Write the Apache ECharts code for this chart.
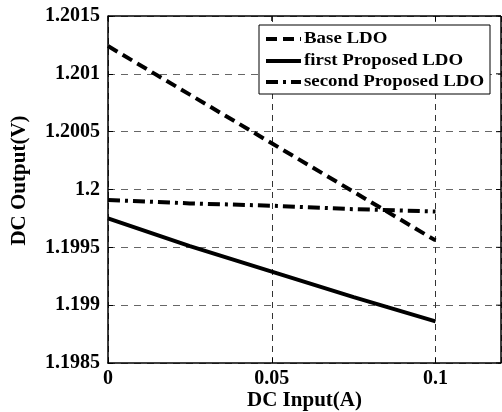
<!DOCTYPE html>
<html>
<head>
<meta charset="utf-8">
<script src="https://cdn.jsdelivr.net/npm/echarts@6/dist/echarts.min.js"></script>
<style>
  html, body { margin: 0; padding: 0; background: #fff; }
  #chart { width: 502px; height: 412px; }
</style>
</head>
<body>
<div id="chart"></div>
<script>
// Load current (A) vs. regulated DC output (V)
const inputCurrent = [0, 0.025, 0.05, 0.075, 0.1];
const baseLDO = [1.20124, 1.20082, 1.2004, 1.19998, 1.19956];
const firstProposedLDO = [1.19975, 1.19951, 1.19929, 1.19907, 1.19886];
const secondProposedLDO = [1.19991, 1.19988, 1.19986, 1.19983, 1.19981];
const seriesNames = ['Base LDO', 'first Proposed LDO', 'second Proposed LDO'];
const xTicks = [0, 0.05, 0.1];
const yTicks = ['1.1985', '1.199', '1.1995', '1.2', '1.2005', '1.201', '1.2015'];

const font = 'Liberation Serif';
const dashStyles = [[11, 6], 'solid', [12, 5, 3, 5]];
const pairs = ys => inputCurrent.map((x, i) => [x, ys[i]]);

const chart = echarts.init(document.getElementById('chart'), null, { renderer: 'canvas' });

function lineSeries(name, data, type) {
  return {
    name: name,
    type: 'line',
    data: pairs(data),
    symbol: 'none',
    smooth: false,
    lineStyle: { color: '#000', width: 4, type: type },
    itemStyle: { color: '#000' },
    z: 5
  };
}

const yLabelMap = {};
yTicks.forEach(t => { yLabelMap[Number(t).toFixed(4)] = t; });

chart.setOption({
  animation: false,
  backgroundColor: '#fff',
  grid: { left: 108, right: 1, top: 16, bottom: 49, containLabel: false, outerBoundsMode: 'none' },
  xAxis: {
    type: 'value',
    min: 0,
    max: 0.12,
    interval: 0.05,
    name: 'DC Input(A)',
    nameLocation: 'middle',
    nameGap: 27,
    nameMoveOverlap: false,
    nameTextStyle: { fontFamily: font, fontWeight: 'bold', fontSize: 21, color: '#000' },
    axisLine: { show: true, onZero: false, lineStyle: { color: '#000', width: 1.5 } },
    axisTick: { show: true, inside: true, length: 5, lineStyle: { color: '#000' } },
    axisLabel: {
      fontFamily: font, fontWeight: 'bold', fontSize: 20, color: '#000', margin: 6,
      showMaxLabel: false,
      formatter: v => (xTicks.some(t => Math.abs(t - v) < 1e-9) ? String(+v.toFixed(3)) : '')
    },
    splitLine: { show: true, lineStyle: { color: '#333', type: [6, 5], width: 1 } }
  },
  yAxis: {
    type: 'value',
    min: 1.1985,
    max: 1.2015,
    interval: 0.0005,
    name: 'DC Output(V)',
    nameLocation: 'middle',
    nameGap: 78,
    nameTextStyle: { fontFamily: font, fontWeight: 'bold', fontSize: 21, color: '#000', padding: [0, 0, 0, 18] },
    axisLine: { show: true, lineStyle: { color: '#000', width: 1.5 } },
    axisTick: { show: true, inside: true, length: 5, lineStyle: { color: '#000' } },
    axisLabel: {
      fontFamily: font, fontWeight: 'bold', fontSize: 20, color: '#000', margin: 8,
      formatter: v => yLabelMap[v.toFixed(4)] || ''
    },
    splitLine: { show: true, lineStyle: { color: '#666', type: [7, 6], width: 1 } }
  },
  series: [
    lineSeries(seriesNames[0], baseLDO, dashStyles[0]),
    lineSeries(seriesNames[1], firstProposedLDO, dashStyles[1]),
    lineSeries(seriesNames[2], secondProposedLDO, dashStyles[2])
  ]
});

// Plot frame (top/right edges with inward ticks) and the boxed legend
(function drawOverlay() {
  const g = [];
  const tl = chart.convertToPixel({ gridIndex: 0 }, [0, 1.2015]);
  const br = chart.convertToPixel({ gridIndex: 0 }, [0.12, 1.1985]);
  g.push({ type: 'line', shape: { x1: tl[0], y1: tl[1], x2: br[0], y2: tl[1] }, style: { stroke: '#000', lineWidth: 1.5 }, z: 10 });
  g.push({ type: 'line', shape: { x1: br[0], y1: tl[1], x2: br[0], y2: br[1] }, style: { stroke: '#000', lineWidth: 1.5 }, z: 10 });
  xTicks.forEach(t => {
    const p = chart.convertToPixel({ gridIndex: 0 }, [t, 1.2015]);
    g.push({ type: 'line', shape: { x1: p[0], y1: tl[1], x2: p[0], y2: tl[1] + 5 }, style: { stroke: '#000', lineWidth: 1 }, z: 10 });
  });
  yTicks.forEach(t => {
    const p = chart.convertToPixel({ gridIndex: 0 }, [0.12, Number(t)]);
    g.push({ type: 'line', shape: { x1: br[0] - 5, y1: p[1], x2: br[0], y2: p[1] }, style: { stroke: '#000', lineWidth: 1 }, z: 10 });
  });

  // Legend box
  const lx = 259, ly = 25, lw = 231, lh = 69;
  g.push({ type: 'rect', shape: { x: lx, y: ly, width: lw, height: lh }, style: { fill: '#fff', stroke: '#000', lineWidth: 1 }, z: 20 });
  const rowY = [39, 61, 82];
  seriesNames.forEach((name, i) => {
    const dash = dashStyles[i] === 'solid' ? null : dashStyles[i];
    g.push({
      type: 'line',
      shape: { x1: 266, y1: rowY[i], x2: 301, y2: rowY[i] },
      style: { stroke: '#000', lineWidth: 4, lineDash: dash },
      z: 21
    });
    g.push({
      type: 'text',
      x: 304, y: rowY[i],
      scaleX: 1.18,
      style: { text: name, fontFamily: font, fontWeight: 'bold', fontSize: 16, fill: '#000', verticalAlign: 'middle', align: 'left' },
      z: 21
    });
  });
  chart.setOption({ graphic: g });
})();
</script>
</body>
</html>
